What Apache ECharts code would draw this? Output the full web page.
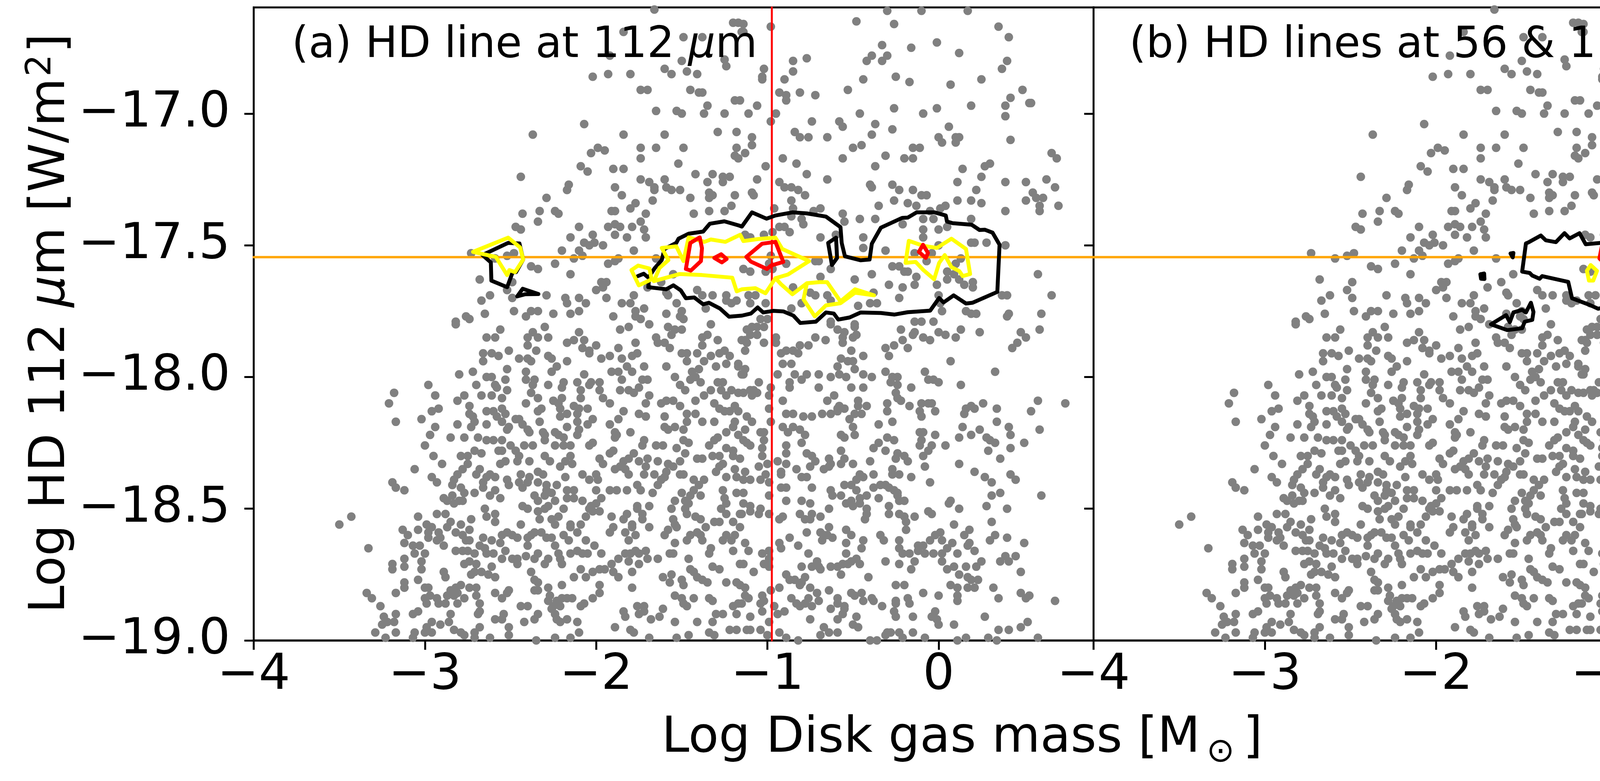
<!DOCTYPE html>
<html><head><meta charset="utf-8">
<script src="https://cdn.jsdelivr.net/npm/echarts@6/dist/echarts.min.js"></script>
<style>html,body{margin:0;padding:0;background:#fff}#c{width:5000px;height:2000px}</style>
</head><body><div id="c"></div><script>
const FONT = 'DejaVu Sans';
const X_MIN = -4, X_MAX = 0.905, Y_MIN = -19, Y_MAX = -16.597;
const xTicks = [-4, -3, -2, -1, 0];
const yTicks = [-19, -18.5, -18, -17.5, -17];
const massLimit = -0.974;
const fluxLimit = -17.545;

const farLeft = [[-3.34,-18.82],[-3.31,-18.84],[-3.26,-18.87],[-3.24,-18.91],[-3.22,-18.93],[-3.25,-18.94],[-3.29,-18.97],[-3.23,-18.99],[-3.50,-18.56],[-3.43,-18.53],[-3.33,-18.65],[-3.21,-18.10]];

const upperLeft = [[-1.66,-16.605],[-1.20,-16.655],[-1.17,-16.655],[-1.84,-16.69],[-1.49,-16.71],[-1.38,-16.71],[-1.15,-16.69],[-1.92,-16.78],[-1.50,-16.80],[-1.25,-16.795],[-1.24,-16.82],[-1.60,-16.83],[-1.56,-16.85],[-1.47,-16.84],[-1.41,-16.85],[-2.02,-16.86],[-1.93,-16.85],[-1.80,-16.85],[-1.74,-16.91],[-1.70,-16.91],[-1.45,-16.91],[-1.40,-16.92],[-1.38,-16.92],[-1.19,-16.95],[-1.16,-16.95],[-1.65,-16.99],[-1.53,-16.99],[-1.50,-17.00],[-1.35,-16.97],[-1.37,-17.00],[-1.25,-17.00],[-2.07,-17.04],[-2.37,-17.08],[-1.84,-17.08],[-1.60,-17.08],[-1.29,-17.07],[-1.18,-17.07],[-1.99,-17.13],[-1.95,-17.14],[-2.03,-17.15],[-1.74,-17.13],[-1.65,-17.13],[-1.49,-17.13],[-1.18,-17.13],[-1.74,-17.17],[-1.52,-17.19],[-1.19,-17.16],[-1.17,-17.17],[-2.09,-17.20],[-2.05,-17.22],[-1.90,-17.21],[-1.84,-17.21],[-2.44,-17.24],[-2.16,-17.27],[-2.17,-17.29],[-1.74,-17.25],[-1.69,-17.26],[-1.66,-17.28],[-1.66,-17.29],[-1.89,-17.28],[-1.60,-17.25],[-1.59,-17.28],[-1.56,-17.29],[-1.51,-17.29],[-1.42,-17.23],[-1.35,-17.26],[-1.32,-17.23],[-1.26,-17.24],[-1.22,-17.24],[-1.26,-17.26],[-1.85,-17.31],[-2.29,-17.32],[-1.45,-17.32],[-1.34,-17.30],[-1.34,-17.32],[-1.32,-17.31],[-1.19,-17.31],[-1.77,-17.34],[-1.80,-17.36],[-1.67,-17.33],[-2.43,-17.38],[-2.33,-17.37],[-2.34,-17.41],[-2.24,-17.37],[-2.22,-17.38],[-1.91,-17.37],[-1.89,-17.37],[-1.71,-17.38],[-1.74,-17.41],[-1.43,-17.38],[-1.34,-17.37],[-1.25,-17.37],[-1.21,-17.35],[-2.47,-17.43],[-2.44,-17.44],[-2.10,-17.43],[-1.93,-17.43],[-1.89,-17.42],[-1.86,-17.43],[-1.89,-17.46],[-1.79,-17.43],[-1.72,-17.44],[-1.71,-17.47],[-1.82,-17.47],[-2.15,-17.47],[-2.02,-17.46],[-2.07,-17.49],[-2.04,-17.50],[-2.01,-17.49],[-1.96,-17.50],[-2.20,-17.52],[-2.13,-17.55],[-2.10,-17.52],[-2.08,-17.54],[-2.73,-17.53],[-2.59,-17.55],[-2.52,-17.54],[-2.48,-17.53],[-1.93,-17.57],[-1.89,-17.56],[-1.87,-17.55],[-1.78,-17.52],[-1.65,-17.55],[-2.38,-17.58],[-2.34,-17.59],[-2.24,-17.57],[-1.55,-17.61],[-2.15,-17.61],[-2.68,-17.63],[-2.49,-17.64],[-2.52,-17.67],[-1.97,-17.64],[-1.94,-17.64],[-2.00,-17.67],[-1.96,-17.66],[-1.70,-17.66],[-1.62,-17.64],[-2.62,-17.69],[-2.67,-17.71],[-2.49,-17.70],[-2.29,-17.69],[-2.18,-17.70],[-2.17,-17.72],[-2.10,-17.70],[-1.94,-17.70],[-1.78,-17.69],[-1.59,-17.68],[-1.58,-17.69],[-1.53,-17.72],[-1.41,-17.67],[-1.38,-17.69],[-1.32,-17.69],[-1.24,-17.69],[-1.24,-17.71],[-1.21,-17.72],[-1.18,-17.71],[-2.48,-17.75],[-2.65,-17.76],[-2.76,-17.77],[-2.74,-17.78],[-2.41,-17.77],[-2.38,-17.75],[-2.34,-17.75],[-2.25,-17.76],[-2.15,-17.76],[-2.10,-17.75],[-2.06,-17.72],[-1.90,-17.77],[-1.85,-17.72],[-1.80,-17.72],[-1.77,-17.75],[-1.72,-17.74],[-1.77,-17.77],[-1.74,-17.78],[-1.59,-17.76],[-1.50,-17.75],[-1.51,-17.77],[-1.49,-17.78],[-1.36,-17.74],[-2.82,-17.79]];

const upperRight = [[-0.30,-16.61],[-0.10,-16.61],[0.17,-16.61],[-0.48,-16.65],[-0.26,-16.66],[-1.14,-16.66],[-1.14,-16.69],[-0.98,-16.67],[0.35,-16.67],[0.41,-16.71],[-0.33,-16.74],[-0.01,-16.73],[-0.16,-16.75],[0.12,-16.77],[-0.30,-16.78],[-0.39,-16.78],[-0.42,-16.80],[-0.33,-16.80],[-0.85,-16.80],[-0.77,-16.79],[0.40,-16.80],[0.37,-16.83],[-1.02,-16.83],[-1.03,-16.86],[-1.03,-16.87],[-0.85,-16.84],[-0.90,-16.87],[-0.44,-16.87],[-0.25,-16.86],[-0.17,-16.88],[0.25,-16.87],[0.07,-16.89],[-0.53,-16.91],[-0.93,-16.92],[-0.89,-16.93],[-0.89,-16.95],[-0.81,-16.92],[-0.72,-16.93],[0.49,-16.91],[0.42,-16.94],[0.39,-16.97],[0.54,-16.96],[0.53,-16.96],[0.19,-16.97],[-0.26,-16.98],[-0.01,-16.98],[-0.09,-17.00],[-0.46,-17.00],[-0.95,-17.00],[-0.98,-17.03],[-1.06,-16.97],[-1.11,-17.00],[0.39,-17.01],[-0.74,-17.03],[-0.58,-17.03],[-0.56,-17.05],[-0.37,-17.04],[-0.84,-17.07],[-0.81,-17.09],[-0.76,-17.09],[-0.65,-17.09],[-0.39,-17.08],[-0.27,-17.06],[0.06,-17.05],[-1.09,-17.09],[-1.09,-17.12],[0.42,-17.10],[0.00,-17.09],[0.02,-17.11],[0.10,-17.09],[0.12,-17.09],[0.10,-17.11],[-0.50,-17.13],[-0.45,-17.12],[-0.15,-17.13],[-0.11,-17.13],[-0.20,-17.17],[-0.15,-17.17],[-0.31,-17.16],[-1.13,-17.15],[-0.91,-17.17],[-0.56,-17.17],[0.66,-17.15],[0.69,-17.17],[-0.83,-17.19],[-0.37,-17.20],[-1.01,-17.20],[0.27,-17.20],[0.30,-17.19],[0.14,-17.21],[-0.77,-17.23],[-1.06,-17.25],[-0.65,-17.25],[-0.93,-17.26],[-0.90,-17.28],[-0.86,-17.28],[-0.82,-17.29],[-0.78,-17.31],[-0.40,-17.27],[-0.39,-17.28],[-0.27,-17.27],[-0.23,-17.29],[-0.15,-17.29],[0.25,-17.24],[0.11,-17.26],[0.39,-17.26],[0.51,-17.26],[0.63,-17.25],[0.68,-17.28],[0.22,-17.29],[-1.09,-17.30],[-1.08,-17.31],[-0.10,-17.31],[-0.07,-17.31],[0.55,-17.30],[0.57,-17.32],[0.61,-17.32],[-0.86,-17.33],[-0.26,-17.33],[-0.18,-17.34],[0.11,-17.33],[0.19,-17.33],[0.25,-17.34],[0.51,-17.33],[0.70,-17.35],[-0.35,-17.35],[-0.13,-17.35],[0.04,-17.35],[0.01,-17.36],[0.59,-17.35],[0.59,-17.37],[-0.96,-17.36],[-0.85,-17.36],[0.39,-17.37],[-0.56,-17.38],[-0.73,-17.37],[-0.69,-17.36],[-0.46,-17.40],[-0.37,-17.40],[-0.05,-17.37],[0.19,-17.40],[-0.55,-17.41],[-0.86,-17.39],[-0.80,-17.40],[-0.79,-17.42],[-0.21,-17.42],[-0.09,-17.40],[-0.09,-17.44],[-0.03,-17.40],[0.00,-17.44],[0.05,-17.43],[-0.93,-17.43],[-0.90,-17.43],[-0.87,-17.45],[-0.97,-17.45],[-1.13,-17.46],[-1.10,-17.47],[-1.02,-17.46],[-0.69,-17.47],[-0.60,-17.46],[-0.44,-17.47],[-0.44,-17.51],[-0.09,-17.47],[-0.31,-17.52],[0.00,-17.50],[0.19,-17.49],[0.21,-17.49],[0.28,-17.49],[0.39,-17.50],[-0.14,-17.53],[-0.07,-17.56],[-0.04,-17.53],[0.10,-17.57],[0.13,-17.55],[-0.98,-17.54],[-0.99,-17.57],[-0.89,-17.57],[-1.14,-17.59],[-1.10,-17.60],[-1.01,-17.60],[-0.97,-17.59],[-0.72,-17.56],[-0.70,-17.56],[-0.63,-17.59],[-0.27,-17.58],[-0.23,-17.58],[-0.20,-17.60],[-0.18,-17.60],[-0.39,-17.61],[-0.13,-17.62],[-0.14,-17.65],[-0.29,-17.65],[-0.21,-17.66],[0.05,-17.60],[0.05,-17.63],[0.09,-17.61],[0.12,-17.63],[0.15,-17.65],[0.20,-17.64],[0.20,-17.66],[-0.01,-17.65],[0.58,-17.61],[-0.69,-17.62],[-0.49,-17.63],[-0.85,-17.66],[-0.75,-17.68],[-0.72,-17.69],[-0.65,-17.69],[-0.63,-17.71],[-1.11,-17.69],[-1.07,-17.69],[-1.10,-17.72],[-1.01,-17.72],[-0.80,-17.72],[-0.86,-17.74],[-0.47,-17.73],[-0.40,-17.72],[-0.36,-17.72],[-0.38,-17.68],[-0.23,-17.70],[0.00,-17.69],[0.01,-17.72],[0.02,-17.75],[0.37,-17.69],[0.40,-17.69],[0.66,-17.69],[0.16,-17.75],[0.19,-17.76],[0.22,-17.76],[0.41,-17.76],[0.40,-17.77],[0.60,-17.76],[-1.04,-17.78],[-1.00,-17.78],[-0.14,-17.79],[-0.10,-17.79],[-0.03,-17.79],[-0.63,-17.79],[-0.49,-17.80]];

const lowerLeft = [[-2.82,-17.80],[-2.64,-17.85],[-2.59,-17.85],[-2.56,-17.82],[-2.40,-17.85],[-2.37,-17.83],[-2.40,-17.88],[-2.34,-17.85],[-2.30,-17.81],[-2.28,-17.85],[-2.17,-17.87],[-2.13,-17.86],[-2.10,-17.83],[-2.07,-17.86],[-2.00,-17.88],[-1.86,-17.82],[-1.81,-17.81],[-1.77,-17.87],[-1.69,-17.80],[-1.65,-17.85],[-1.64,-17.87],[-1.60,-17.87],[-1.58,-17.81],[-1.54,-17.82],[-1.56,-17.84],[-1.50,-17.82],[-1.38,-17.85],[-1.35,-17.84],[-1.33,-17.80],[-1.29,-17.86],[-1.15,-17.86],
[-2.66,-17.91],[-2.66,-17.94],[-2.61,-17.91],[-2.57,-17.92],[-2.51,-17.90],[-2.45,-17.93],[-2.40,-17.93],[-2.38,-17.94],[-2.35,-17.90],[-2.28,-17.92],[-2.26,-17.93],[-2.17,-17.94],[-2.08,-17.89],[-2.04,-17.90],[-2.04,-17.91],[-1.97,-17.93],[-1.92,-17.92],[-1.87,-17.89],[-1.85,-17.93],[-1.79,-17.92],[-1.76,-17.91],[-1.57,-17.89],[-1.50,-17.91],[-1.47,-17.91],[-1.47,-17.94],[-1.41,-17.91],[-1.38,-17.88],[-1.33,-17.92],[-1.37,-17.94],[-1.28,-17.91],[-1.25,-17.90],[-1.22,-17.92],[-1.24,-17.95],[-1.17,-17.95],
[-2.80,-17.99],[-2.72,-17.98],[-2.64,-18.00],[-2.61,-18.00],[-2.52,-17.97],[-2.53,-18.01],[-2.41,-17.98],[-2.41,-18.01],[-2.36,-18.01],[-2.26,-17.98],[-2.23,-17.96],[-2.19,-18.02],[-2.11,-18.02],[-2.07,-17.99],[-2.03,-18.02],[-1.98,-18.02],[-1.91,-17.98],[-1.87,-17.98],[-1.85,-18.01],[-1.82,-17.96],[-1.79,-17.98],[-1.72,-17.96],[-1.73,-18.01],[-1.70,-18.01],[-1.59,-17.96],[-1.54,-18.00],[-1.51,-18.03],[-1.44,-17.98],[-1.40,-17.97],[-1.45,-18.01],[-1.42,-18.00],[-1.39,-18.02],[-1.30,-17.96],[-1.29,-18.02],[-1.26,-18.02],[-1.17,-17.96],[-1.15,-17.99],
[-2.98,-18.03],[-3.18,-18.06],[-2.94,-18.07],[-2.81,-18.09],[-2.77,-18.07],[-2.70,-18.03],[-2.67,-18.07],[-2.61,-18.07],[-2.59,-18.03],[-2.58,-18.04],[-2.52,-18.05],[-2.55,-18.08],[-2.41,-18.10],[-2.38,-18.06],[-2.34,-18.08],[-2.37,-18.03],[-2.28,-18.03],[-2.20,-18.04],[-2.20,-18.08],[-2.25,-18.09],[-2.22,-18.10],[-2.09,-18.05],[-2.09,-18.08],[-2.04,-18.03],[-1.98,-18.05],[-1.96,-18.08],[-1.92,-18.10],[-1.86,-18.05],[-1.81,-18.05],[-1.78,-18.06],[-1.75,-18.04],[-1.69,-18.07],[-1.71,-18.10],[-1.62,-18.10],[-1.59,-18.09],[-1.55,-18.09],[-1.48,-18.05],[-1.42,-18.09],[-1.37,-18.07],[-1.33,-18.05],[-1.27,-18.05],[-1.24,-18.07],[-1.21,-18.05],[-1.17,-18.06],[-1.31,-18.10],
[-2.92,-18.12],[-2.96,-18.13],[-3.02,-18.16],[-3.17,-18.17],[-2.94,-18.19],[-2.81,-18.18],[-2.74,-18.11],[-2.74,-18.14],[-2.72,-18.15],[-2.71,-18.17],[-2.64,-18.13],[-2.60,-18.13],[-2.58,-18.15],[-2.55,-18.12],[-2.53,-18.14],[-2.64,-18.18],[-2.55,-18.17],[-2.47,-18.16],[-2.45,-18.16],[-2.43,-18.18],[-2.40,-18.20],[-2.34,-18.13],[-2.32,-18.12],[-2.33,-18.17],[-2.21,-18.15],[-2.17,-18.14],[-2.21,-18.12],[-2.13,-18.11],[-2.10,-18.12],[-2.05,-18.12],[-2.11,-18.14],[-2.02,-18.16],[-2.05,-18.18],[-2.11,-18.17],[-1.84,-18.13],[-1.87,-18.16],[-1.75,-18.14],[-1.71,-18.15],[-1.60,-18.15],[-1.51,-18.11],[-1.47,-18.14],[-1.42,-18.14],[-1.38,-18.17],[-1.47,-18.17],[-1.31,-18.17],[-1.28,-18.12],[-1.25,-18.13],[-1.22,-18.13],[-1.19,-18.11],[-1.17,-18.13],[-1.19,-18.17],
[-2.97,-18.22],[-3.00,-18.26],[-2.85,-18.23],[-2.77,-18.23],[-2.73,-18.19],[-2.69,-18.23],[-2.64,-18.24],[-2.60,-18.24],[-2.55,-18.24],[-2.52,-18.20],[-2.51,-18.19],[-2.39,-18.21],[-2.42,-18.26],[-2.37,-18.26],[-2.31,-18.21],[-2.30,-18.22],[-2.30,-18.24],[-2.24,-18.21],[-2.22,-18.22],[-2.19,-18.23],[-2.17,-18.19],[-2.24,-18.26],[-2.19,-18.26],[-2.15,-18.26],[-2.10,-18.20],[-2.11,-18.22],[-2.04,-18.26],[-2.02,-18.25],[-1.92,-18.18],[-1.89,-18.21],[-1.88,-18.22],[-1.89,-18.23],[-1.80,-18.21],[-1.72,-18.24],[-1.73,-18.26],[-1.65,-18.26],[-1.61,-18.26],[-1.60,-18.19],[-1.58,-18.20],[-1.54,-18.19],[-1.49,-18.20],[-1.49,-18.24],[-1.46,-18.25],[-1.34,-18.26],[-1.31,-18.24],[-1.29,-18.23],[-1.24,-18.21],[-1.20,-18.19],[-1.17,-18.22],
[-2.95,-18.30],[-2.90,-18.33],[-3.06,-18.35],[-2.79,-18.30],[-2.75,-18.30],[-2.71,-18.28],[-2.67,-18.29],[-2.57,-18.28],[-2.55,-18.28],[-2.50,-18.26],[-2.47,-18.28],[-2.45,-18.30],[-2.46,-18.32],[-2.56,-18.33],[-2.53,-18.32],[-2.39,-18.32],[-2.30,-18.30],[-2.27,-18.32],[-2.18,-18.32],[-2.15,-18.30],[-2.14,-18.33],[-2.21,-18.34],[-1.98,-18.31],[-1.96,-18.33],[-1.92,-18.29],[-1.90,-18.28],[-1.89,-18.35],[-1.86,-18.34],[-1.84,-18.32],[-1.81,-18.31],[-1.78,-18.29],[-1.75,-18.32],[-1.70,-18.31],[-1.71,-18.34],[-1.64,-18.32],[-1.58,-18.33],[-1.55,-18.34],[-1.51,-18.32],[-1.53,-18.27],[-1.48,-18.29],[-1.41,-18.31],[-1.38,-18.31],[-1.32,-18.30],[-1.28,-18.30],[-1.26,-18.33],[-1.24,-18.27],[-1.20,-18.28],[-1.20,-18.30],[-1.16,-18.31],
[-2.96,-18.38],[-2.93,-18.40],[-2.81,-18.37],[-2.83,-18.39],[-2.84,-18.41],[-2.78,-18.35],[-2.75,-18.33],[-2.70,-18.37],[-2.68,-18.35],[-2.66,-18.40],[-2.64,-18.38],[-2.62,-18.37],[-2.59,-18.38],[-2.52,-18.39],[-2.51,-18.41],[-2.44,-18.37],[-2.45,-18.40],[-2.43,-18.42],[-2.39,-18.38],[-2.40,-18.40],[-2.34,-18.36],[-2.31,-18.37],[-2.34,-18.40],[-2.29,-18.41],[-2.23,-18.41],[-2.18,-18.38],[-2.08,-18.37],[-2.04,-18.39],[-2.00,-18.37],[-1.99,-18.39],[-2.00,-18.43],[-1.83,-18.35],[-1.81,-18.37],[-1.72,-18.37],[-1.66,-18.37],[-1.62,-18.39],[-1.60,-18.38],[-1.59,-18.36],[-1.64,-18.41],[-1.51,-18.37],[-1.49,-18.37],[-1.43,-18.39],[-1.37,-18.39],[-1.40,-18.41],[-1.30,-18.36],[-1.28,-18.34],[-1.24,-18.38],[-1.19,-18.35],[-1.18,-18.38],
[-3.17,-18.42],[-3.12,-18.43],[-3.19,-18.40],[-2.89,-18.46],[-2.87,-18.47],[-2.84,-18.45],[-2.83,-18.48],[-2.79,-18.42],[-2.77,-18.44],[-2.78,-18.47],[-2.80,-18.47],[-2.71,-18.44],[-2.66,-18.42],[-2.62,-18.45],[-2.59,-18.43],[-2.56,-18.46],[-2.65,-18.50],[-2.43,-18.49],[-2.40,-18.50],[-2.36,-18.45],[-2.34,-18.47],[-2.30,-18.45],[-2.29,-18.43],[-2.26,-18.44],[-2.24,-18.47],[-2.30,-18.50],[-2.28,-18.49],[-2.17,-18.43],[-2.13,-18.43],[-2.17,-18.46],[-2.13,-18.46],[-2.19,-18.50],[-2.08,-18.47],[-2.03,-18.49],[-2.00,-18.48],[-1.97,-18.46],[-1.92,-18.43],[-1.88,-18.43],[-1.82,-18.43],[-1.76,-18.41],[-1.74,-18.43],[-1.67,-18.44],[-1.69,-18.49],[-1.76,-18.49],[-1.50,-18.44],[-1.45,-18.45],[-1.43,-18.43],[-1.39,-18.45],[-1.48,-18.47],[-1.46,-18.48],[-1.54,-18.47],[-1.26,-18.43],[-1.25,-18.46],[-1.24,-18.48],[-1.18,-18.44],
[-3.04,-18.53],[-2.93,-18.52],[-2.88,-18.52],[-2.99,-18.56],[-2.96,-18.57],[-2.85,-18.55],[-2.79,-18.56],[-2.73,-18.54],[-2.64,-18.53],[-2.59,-18.52],[-2.59,-18.55],[-2.44,-18.56],[-2.34,-18.51],[-2.33,-18.54],[-2.26,-18.54],[-2.24,-18.56],[-2.22,-18.53],[-2.15,-18.56],[-2.09,-18.56],[-2.06,-18.53],[-2.04,-18.50],[-2.02,-18.51],[-1.98,-18.51],[-1.91,-18.53],[-1.90,-18.57],[-1.84,-18.54],[-1.82,-18.52],[-1.79,-18.56],[-1.76,-18.50],[-1.73,-18.52],[-1.73,-18.54],[-1.69,-18.57],[-1.56,-18.50],[-1.55,-18.54],[-1.53,-18.57],[-1.48,-18.50],[-1.47,-18.52],[-1.42,-18.53],[-1.39,-18.54],[-1.36,-18.57],[-1.31,-18.55],[-1.28,-18.55],[-1.27,-18.50],[-1.24,-18.52],[-1.20,-18.55],[-1.16,-18.52],
[-3.13,-18.58],[-3.10,-18.60],[-3.12,-18.63],[-3.07,-18.64],[-3.04,-18.58],[-2.98,-18.59],[-2.98,-18.61],[-2.92,-18.59],[-2.91,-18.61],[-2.93,-18.62],[-2.89,-18.64],[-2.87,-18.57],[-2.82,-18.59],[-2.78,-18.60],[-2.76,-18.62],[-2.74,-18.58],[-2.74,-18.62],[-2.66,-18.61],[-2.61,-18.62],[-2.56,-18.63],[-2.55,-18.60],[-2.52,-18.59],[-2.49,-18.60],[-2.46,-18.61],[-2.40,-18.61],[-2.38,-18.60],[-2.40,-18.64],[-2.36,-18.59],[-2.32,-18.59],[-2.29,-18.61],[-2.26,-18.61],[-2.19,-18.60],[-2.16,-18.62],[-2.15,-18.57],[-2.11,-18.59],[-2.06,-18.62],[-2.01,-18.64],[-1.92,-18.59],[-1.83,-18.59],[-1.79,-18.57],[-1.77,-18.60],[-1.81,-18.62],[-1.60,-18.60],[-1.58,-18.58],[-1.54,-18.56],[-1.54,-18.63],[-1.47,-18.62],[-1.45,-18.60],[-1.41,-18.59],[-1.39,-18.60],[-1.38,-18.62],[-1.26,-18.62],[-1.24,-18.60],[-1.21,-18.62],[-1.19,-18.60],[-1.16,-18.57],
[-3.06,-18.67],[-3.03,-18.64],[-3.02,-18.70],[-3.00,-18.67],[-3.12,-18.69],[-3.12,-18.72],[-3.19,-18.71],[-3.19,-18.73],[-3.02,-18.73],[-2.82,-18.66],[-2.78,-18.66],[-2.75,-18.66],[-2.77,-18.71],[-2.74,-18.70],[-2.71,-18.67],[-2.68,-18.64],[-2.65,-18.65],[-2.64,-18.67],[-2.60,-18.67],[-2.70,-18.71],[-2.61,-18.72],[-2.55,-18.69],[-2.53,-18.66],[-2.49,-18.69],[-2.46,-18.69],[-2.46,-18.71],[-2.41,-18.68],[-2.36,-18.69],[-2.34,-18.67],[-2.28,-18.69],[-2.30,-18.71],[-2.24,-18.64],[-2.22,-18.67],[-2.21,-18.69],[-2.20,-18.71],[-2.15,-18.67],[-2.11,-18.66],[-2.08,-18.67],[-2.05,-18.67],[-1.97,-18.67],[-1.91,-18.71],[-1.87,-18.69],[-1.83,-18.67],[-1.80,-18.67],[-1.77,-18.66],[-1.75,-18.67],[-1.71,-18.66],[-1.70,-18.69],[-1.81,-18.70],[-1.75,-18.71],[-1.64,-18.69],[-1.57,-18.67],[-1.55,-18.67],[-1.46,-18.69],[-1.34,-18.67],[-1.33,-18.65],[-1.20,-18.66],[-1.16,-18.71],[-1.32,-18.72],[-1.28,-18.73],
[-2.89,-18.74],[-2.88,-18.76],[-3.04,-18.77],[-3.12,-18.78],[-3.12,-18.80],[-3.17,-18.82],[-2.73,-18.75],[-2.71,-18.74],[-2.67,-18.74],[-2.63,-18.75],[-2.59,-18.76],[-2.38,-18.74],[-2.36,-18.77],[-2.34,-18.78],[-2.20,-18.79],[-2.13,-18.76],[-2.09,-18.73],[-2.06,-18.76],[-2.02,-18.74],[-1.98,-18.73],[-1.95,-18.73],[-1.90,-18.74],[-1.87,-18.76],[-1.79,-18.74],[-1.61,-18.76],[-1.57,-18.78],[-1.56,-18.75],[-1.50,-18.77],[-1.49,-18.79],[-1.45,-18.73],[-1.43,-18.74],[-1.41,-18.76],[-1.38,-18.77],[-1.35,-18.78],[-1.24,-18.78],[-1.18,-18.78],[-1.16,-18.79],[-1.98,-18.79],
[-3.00,-18.80],[-2.98,-18.80],[-3.00,-18.84],[-2.97,-18.83],[-2.99,-18.86],[-2.93,-18.84],[-2.92,-18.86],[-2.88,-18.86],[-2.85,-18.81],[-2.82,-18.80],[-2.79,-18.79],[-2.87,-18.83],[-2.83,-18.83],[-2.81,-18.82],[-2.81,-18.86],[-2.77,-18.84],[-2.74,-18.80],[-2.70,-18.80],[-2.70,-18.83],[-2.68,-18.86],[-2.59,-18.82],[-2.55,-18.84],[-2.52,-18.82],[-2.51,-18.81],[-2.44,-18.87],[-2.40,-18.87],[-2.36,-18.81],[-2.34,-18.81],[-2.28,-18.80],[-2.27,-18.83],[-2.28,-18.85],[-2.23,-18.85],[-2.20,-18.84],[-2.17,-18.84],[-2.14,-18.84],[-2.25,-18.87],[-2.21,-18.87],[-2.09,-18.87],[-2.07,-18.86],[-2.02,-18.84],[-1.98,-18.82],[-1.79,-18.80],[-1.76,-18.87],[-1.72,-18.87],[-1.54,-18.83],[-1.50,-18.84],[-1.43,-18.84],[-1.34,-18.84],[-1.32,-18.85],[-1.49,-18.86],[-1.47,-18.87],[-1.20,-18.87],[-1.17,-18.86],
[-3.07,-18.90],[-3.04,-18.89],[-3.17,-18.90],[-3.18,-18.93],[-2.96,-18.93],[-2.99,-18.95],[-2.91,-18.94],[-2.86,-18.93],[-2.85,-18.90],[-2.69,-18.90],[-2.68,-18.89],[-2.59,-18.92],[-2.55,-18.92],[-2.54,-18.90],[-2.42,-18.93],[-2.36,-18.92],[-2.34,-18.90],[-2.26,-18.88],[-2.24,-18.90],[-2.23,-18.92],[-2.21,-18.93],[-2.17,-18.92],[-2.11,-18.93],[-1.84,-18.89],[-1.83,-18.91],[-1.75,-18.90],[-1.72,-18.89],[-1.68,-18.92],[-1.63,-18.91],[-1.61,-18.88],[-1.54,-18.93],[-1.41,-18.93],[-1.32,-18.93],[-1.30,-18.90],[-1.26,-18.90],[-1.18,-18.90],
[-3.17,-18.97],[-3.06,-18.97],[-3.07,-18.99],[-3.00,-18.97],[-2.96,-18.97],[-2.83,-18.96],[-2.79,-18.97],[-2.77,-18.98],[-2.71,-18.97],[-2.68,-18.95],[-2.71,-18.99],[-2.62,-18.99],[-2.51,-18.95],[-2.51,-18.98],[-2.35,-19.00],[-2.24,-18.99],[-2.15,-18.99],[-2.10,-18.97],[-1.89,-18.95],[-1.80,-18.96],[-1.78,-18.97],[-1.69,-18.99],[-1.53,-18.99],[-1.46,-18.98],[-1.34,-18.97],[-1.31,-18.98],[-1.22,-18.96],[-1.18,-18.96]];

const lowerRight = [[-1.12,-17.82],[-1.09,-17.81],[-1.06,-17.81],[-1.02,-17.81],[-1.13,-17.86],[-1.10,-17.84],[-1.06,-17.84],[-1.02,-17.87],[-1.12,-17.87],[-0.95,-17.85],[-0.95,-17.87],[-0.72,-17.85],[-0.66,-17.86],[-0.59,-17.82],[-0.55,-17.83],[-0.56,-17.85],[-0.56,-17.87],[-0.50,-17.85],[-0.48,-17.84],[-0.49,-17.81],[-0.63,-17.80],[-0.22,-17.82],[-0.26,-17.88],[-0.21,-17.86],[-0.18,-17.89],[-0.15,-17.84],[-0.14,-17.83],[-0.09,-17.85],[-0.05,-17.86],[0.00,-17.83],[0.04,-17.84],[0.10,-17.85],[0.13,-17.82],[0.24,-17.83],[0.48,-17.83],[0.51,-17.85],[0.46,-17.87],[0.43,-17.89],[0.59,-17.82],[-0.31,-17.89],
[-1.13,-17.90],[-0.92,-17.91],[-0.89,-17.90],[-0.85,-17.90],[-0.82,-17.91],[-0.81,-17.88],[-0.76,-17.88],[-0.91,-17.95],[-0.86,-17.95],[-0.57,-17.93],[-0.53,-17.94],[-0.50,-17.94],[-0.51,-17.90],[-0.44,-17.92],[-0.59,-17.96],[-0.29,-17.92],[0.07,-17.94],[0.33,-17.98],
[-1.13,-17.97],[-1.14,-17.99],[-0.94,-17.99],[-0.84,-17.99],[-0.80,-18.01],[-0.77,-17.99],[-0.70,-17.99],[-0.63,-18.00],[-0.58,-17.99],[-0.54,-18.00],[-0.49,-17.97],[-0.44,-17.99],[-0.39,-18.00],[-0.31,-17.98],[-0.27,-18.00],[-0.24,-18.00],[-0.28,-18.02],[-0.24,-18.03],[-0.08,-17.98],[-0.06,-18.01],[-0.03,-18.01],[0.00,-18.02],[0.13,-18.03],[-1.05,-18.02],[-0.87,-18.02],[-0.87,-18.04],
[-1.10,-18.05],[-1.08,-18.05],[-1.06,-18.06],[-1.09,-18.07],[-1.14,-18.06],[-0.99,-18.07],[-0.98,-18.04],[-0.91,-18.09],[-0.70,-18.04],[-0.65,-18.09],[-0.61,-18.07],[-0.51,-18.04],[-0.44,-18.04],[-0.47,-18.09],[-0.47,-18.11],[-0.58,-18.11],[-0.55,-18.12],[-0.59,-18.13],[-0.16,-18.04],[-0.25,-18.06],[-0.24,-18.08],[-0.22,-18.09],[-0.17,-18.11],[-0.10,-18.10],[-0.06,-18.10],[-0.04,-18.10],[0.26,-18.10],[0.58,-18.09],[0.74,-18.10],[-0.30,-18.10],[-0.30,-18.13],
[-0.99,-18.12],[-1.12,-18.15],[-1.09,-18.17],[-0.89,-18.14],[-0.85,-18.14],[-0.79,-18.15],[-0.74,-18.15],[-0.68,-18.14],[-0.63,-18.14],[-0.59,-18.12],[-0.52,-18.16],[-0.49,-18.14],[-0.45,-18.14],[-0.42,-18.11],[-0.11,-18.13],[-0.10,-18.15],[-0.02,-18.13],[0.15,-18.14],[0.16,-18.12],[0.19,-18.11],[0.21,-18.12],[0.34,-18.12],[0.34,-18.17],[0.54,-18.13],[-0.35,-18.18],[-0.27,-18.17],[-0.98,-18.17],
[-1.13,-18.20],[-1.14,-18.24],[-1.12,-18.25],[-1.10,-18.26],[-1.04,-18.21],[-1.02,-18.21],[-1.02,-18.24],[-0.91,-18.19],[-0.88,-18.21],[-0.85,-18.19],[-0.81,-18.20],[-0.78,-18.22],[-0.89,-18.26],[-0.80,-18.25],[-0.57,-18.22],[-0.55,-18.23],[-0.50,-18.19],[-0.49,-18.22],[-0.38,-18.27],[-0.35,-18.25],[-0.30,-18.23],[-0.26,-18.24],[-0.11,-18.21],[-0.09,-18.21],[-0.10,-18.24],[-0.11,-18.26],[-0.02,-18.22],[-0.04,-18.26],[0.04,-18.26],[0.12,-18.23],[0.14,-18.19],[0.19,-18.22],[0.24,-18.20],[0.28,-18.23],[0.30,-18.24],[0.33,-18.25],[0.41,-18.19],[0.42,-18.22],[0.50,-18.25],[0.59,-18.20],
[-1.03,-18.27],[-1.03,-18.30],[-0.89,-18.29],[-0.77,-18.29],[-0.74,-18.30],[-0.72,-18.32],[-0.75,-18.34],[-0.94,-18.32],[-0.89,-18.33],[-0.64,-18.31],[-0.63,-18.33],[-0.64,-18.34],[-0.67,-18.35],[-0.57,-18.28],[-0.57,-18.33],[-0.55,-18.31],[-0.50,-18.33],[-0.40,-18.32],[-0.31,-18.28],[-0.24,-18.29],[-0.25,-18.31],[-0.20,-18.30],[-0.18,-18.32],[-0.09,-18.30],[-0.06,-18.28],[0.29,-18.28],[0.36,-18.31],[0.42,-18.27],[0.12,-18.33],[-0.08,-18.34],[-1.05,-18.34],[-1.00,-18.33],
[-1.13,-18.36],[-1.14,-18.39],[-1.10,-18.39],[-1.04,-18.39],[-1.01,-18.37],[-0.99,-18.40],[-0.92,-18.36],[-0.92,-18.37],[-0.83,-18.35],[-0.80,-18.38],[-0.77,-18.38],[-0.92,-18.42],[-0.89,-18.42],[-0.74,-18.42],[-0.63,-18.43],[-0.62,-18.45],[-0.55,-18.41],[-0.51,-18.41],[-0.48,-18.39],[-0.46,-18.37],[-0.44,-18.38],[-0.38,-18.37],[-0.48,-18.43],[-0.34,-18.41],[-0.31,-18.41],[-0.29,-18.42],[-0.26,-18.43],[-0.24,-18.44],[-0.24,-18.45],[-0.38,-18.42],[-0.27,-18.35],[-0.27,-18.37],[-0.23,-18.37],[-0.16,-18.38],[-0.05,-18.40],[0.21,-18.36],[0.27,-18.38],[0.31,-18.40],[0.42,-18.37],[0.45,-18.39],
[-1.14,-18.44],[-1.14,-18.48],[-1.10,-18.49],[-1.04,-18.50],[-0.99,-18.45],[-0.89,-18.47],[-0.80,-18.47],[-0.75,-18.48],[-0.57,-18.45],[-0.54,-18.48],[-0.51,-18.47],[-0.50,-18.49],[-0.46,-18.48],[-0.46,-18.46],[-0.42,-18.45],[-0.35,-18.46],[-0.29,-18.49],[-0.23,-18.47],[-0.20,-18.47],[0.31,-18.45],[0.36,-18.44],[0.60,-18.45],[0.07,-18.47],[0.06,-18.48],[0.28,-18.49],
[-1.10,-18.51],[-1.15,-18.52],[-1.05,-18.52],[-0.99,-18.52],[-0.93,-18.54],[-0.91,-18.53],[-0.81,-18.52],[-0.78,-18.54],[-0.75,-18.54],[-0.74,-18.52],[-0.69,-18.53],[-0.64,-18.50],[-0.42,-18.50],[-0.42,-18.52],[-0.43,-18.54],[-0.29,-18.52],[-0.23,-18.52],[-0.20,-18.53],[-0.14,-18.53],[-0.06,-18.51],[-0.04,-18.52],[0.12,-18.50],[0.40,-18.50],[-0.19,-18.55],[-0.19,-18.58],[0.09,-18.56],[0.31,-18.55],
[-1.13,-18.63],[-0.77,-18.59],[-0.87,-18.61],[-0.93,-18.63],[-0.92,-18.65],[-0.82,-18.64],[-0.69,-18.59],[-0.67,-18.60],[-0.65,-18.60],[-0.68,-18.62],[-0.62,-18.61],[-0.64,-18.57],[-0.54,-18.58],[-0.51,-18.60],[-0.54,-18.63],[-0.44,-18.62],[-0.45,-18.65],[-0.34,-18.60],[-0.32,-18.62],[-0.23,-18.62],[-0.23,-18.65],[-0.21,-18.67],[-0.12,-18.64],[-0.09,-18.64],[-0.05,-18.62],[-0.02,-18.60],[0.01,-18.59],[0.02,-18.62],[0.08,-18.63],[0.15,-18.60],[0.18,-18.63],[0.18,-18.58],[0.17,-18.64],[0.30,-18.62],[0.33,-18.60],[0.40,-18.61],[0.50,-18.63],[0.05,-18.65],[0.11,-18.67],
[-1.11,-18.66],[-1.03,-18.67],[-0.99,-18.66],[-0.99,-18.69],[-1.14,-18.71],[-1.02,-18.71],[-0.99,-18.72],[-1.08,-18.74],[-0.76,-18.67],[-0.71,-18.70],[-0.69,-18.73],[-0.70,-18.72],[-0.80,-18.72],[-0.74,-18.72],[-0.63,-18.72],[-0.59,-18.72],[-0.56,-18.71],[-0.53,-18.71],[-0.51,-18.70],[-0.48,-18.69],[-0.46,-18.71],[-0.54,-18.67],[-0.31,-18.70],[-0.23,-18.71],[-0.17,-18.67],[-0.14,-18.70],[-0.16,-18.73],[-0.12,-18.66],[-0.08,-18.67],[-0.03,-18.67],[0.02,-18.67],[0.02,-18.70],[0.05,-18.73],[0.09,-18.72],[0.12,-18.75],[0.16,-18.72],[0.22,-18.72],[0.25,-18.70],[0.21,-18.66],[0.36,-18.70],[0.39,-18.68],[0.41,-18.70],[0.45,-18.68],[0.48,-18.74],[-0.57,-18.75],[-0.41,-18.76],
[-0.89,-18.75],[-0.87,-18.77],[-0.84,-18.77],[-0.81,-18.79],[-0.80,-18.78],[-0.78,-18.76],[-1.13,-18.80],[-0.98,-18.81],[-0.93,-18.80],[-0.75,-18.80],[-0.64,-18.81],[-0.25,-18.79],[-0.20,-18.79],[0.07,-18.79],[0.11,-18.80],[0.11,-18.83],[0.17,-18.76],[0.19,-18.77],[0.23,-18.77],[0.17,-18.80],[0.21,-18.80],[0.32,-18.80],
[-1.13,-18.83],[-1.11,-18.84],[-1.15,-18.86],[-1.03,-18.83],[-1.02,-18.85],[-1.04,-18.86],[-0.96,-18.87],[-0.86,-18.84],[-0.83,-18.86],[-0.81,-18.87],[-0.78,-18.86],[-0.76,-18.84],[-0.74,-18.87],[-0.71,-18.82],[-0.70,-18.85],[-0.59,-18.84],[-0.59,-18.86],[-0.63,-18.88],[-0.51,-18.82],[-0.49,-18.83],[-0.45,-18.82],[-0.44,-18.85],[-0.39,-18.84],[-0.38,-18.85],[-0.33,-18.87],[-0.25,-18.85],[-0.25,-18.86],[-0.26,-18.89],[-0.18,-18.84],[-0.17,-18.86],[-0.09,-18.82],[0.00,-18.83],[0.11,-18.85],[0.35,-18.84],[0.48,-18.82],[0.51,-18.84],[0.53,-18.83],[0.68,-18.85],
[-1.10,-18.91],[-1.03,-18.89],[-0.94,-18.90],[-0.90,-18.89],[-0.99,-18.93],[-0.75,-18.92],[-0.59,-18.92],[-0.56,-18.90],[-0.55,-18.87],[-0.55,-18.88],[-0.48,-18.91],[-0.50,-18.94],[-0.47,-18.95],[-0.25,-18.91],[-0.15,-18.91],[-0.02,-18.89],[-0.04,-18.91],[-0.01,-18.92],[0.00,-18.94],[0.09,-18.94],[0.27,-18.91],[0.52,-18.93],[0.48,-18.95],
[-1.12,-18.96],[-1.10,-18.96],[-1.04,-18.96],[-1.00,-18.98],[-0.93,-18.97],[-0.89,-18.99],[-0.82,-19.00],[-0.69,-18.98],[-0.67,-18.95],[-0.64,-18.97],[-0.59,-18.97],[-0.40,-19.00],[-0.36,-19.00],[-0.31,-18.98],[-0.30,-18.97],[-0.28,-18.97],[-0.23,-18.97],[-0.21,-18.99],[-0.15,-18.97],[-0.08,-18.99],[0.11,-19.00],[0.16,-18.99],[0.29,-18.99],[0.34,-19.00],[0.35,-18.96],[0.41,-18.96],[0.58,-18.99]];

// Panel (a) contours
const aBlackMain = [[-1.149,-17.429],[-1.090,-17.375],[-1.005,-17.399],[-0.953,-17.387],[-0.854,-17.375],[-0.769,-17.379],[-0.658,-17.391],[-0.573,-17.431],[-0.566,-17.491],[-0.547,-17.542],[-0.455,-17.557],[-0.403,-17.554],[-0.390,-17.494],[-0.370,-17.471],[-0.337,-17.433],[-0.213,-17.396],[-0.180,-17.395],[-0.128,-17.375],[-0.023,-17.375],[0.042,-17.387],[0.049,-17.410],[0.082,-17.416],[0.193,-17.422],[0.239,-17.442],[0.271,-17.441],[0.315,-17.452],[0.356,-17.498],[0.343,-17.677],[0.199,-17.718],[0.160,-17.721],[0.088,-17.690],[0.029,-17.717],[0.003,-17.700],[-0.049,-17.748],[-0.180,-17.754],[-0.259,-17.763],[-0.337,-17.757],[-0.455,-17.755],[-0.520,-17.774],[-0.586,-17.782],[-0.612,-17.759],[-0.658,-17.755],[-0.717,-17.790],[-0.808,-17.795],[-0.848,-17.767],[-0.907,-17.751],[-0.966,-17.749],[-1.024,-17.755],[-1.057,-17.736],[-1.096,-17.759],[-1.149,-17.767],[-1.224,-17.771],[-1.277,-17.740],[-1.342,-17.718],[-1.375,-17.724],[-1.427,-17.698],[-1.476,-17.701],[-1.506,-17.671],[-1.549,-17.652],[-1.591,-17.667],[-1.696,-17.659],[-1.689,-17.617],[-1.657,-17.586],[-1.617,-17.556],[-1.601,-17.514],[-1.532,-17.491],[-1.519,-17.475],[-1.460,-17.456],[-1.375,-17.448],[-1.336,-17.418],[-1.251,-17.409],[-1.166,-17.425],[-1.149,-17.429]];
const aBlackLeft = [[-2.664,-17.537],[-2.514,-17.491],[-2.448,-17.493],[-2.426,-17.554],[-2.468,-17.602],[-2.488,-17.603],[-2.520,-17.659],[-2.612,-17.634],[-2.615,-17.565],[-2.664,-17.537]];
const aBlackSliver = [[-2.461,-17.694],[-2.429,-17.665],[-2.337,-17.685],[-2.416,-17.686],[-2.461,-17.694]];
const aBlackSpike = [[-0.645,-17.491],[-0.599,-17.471],[-0.593,-17.548],[-0.623,-17.575],[-0.645,-17.491]];
const aBlackNotch = [[-1.757,-17.617],[-1.722,-17.608],[-1.700,-17.620]];
const aYellowLeft = [[-2.719,-17.525],[-2.514,-17.471],[-2.444,-17.508],[-2.426,-17.554],[-2.474,-17.602],[-2.507,-17.594],[-2.520,-17.613],[-2.586,-17.544],[-2.719,-17.525]];
const aYellowSmall = [[-1.794,-17.594],[-1.755,-17.577],[-1.689,-17.588],[-1.676,-17.629],[-1.751,-17.652],[-1.794,-17.594]];
const aYellowMain = [[-1.663,-17.636],[-1.630,-17.586],[-1.578,-17.556],[-1.617,-17.510],[-1.532,-17.504],[-1.490,-17.560],[-1.460,-17.470],[-1.368,-17.487],[-1.330,-17.478],[-1.245,-17.487],[-1.159,-17.460],[-1.140,-17.484],[-1.052,-17.476],[-0.953,-17.471],[-0.913,-17.514],[-0.756,-17.560],[-0.880,-17.611],[-0.953,-17.625],[-1.011,-17.682],[-1.070,-17.663],[-1.149,-17.667],[-1.179,-17.675],[-1.205,-17.623],[-1.382,-17.613],[-1.512,-17.609],[-1.663,-17.636]];
const aYellowLower = [[-0.953,-17.625],[-0.920,-17.648],[-0.854,-17.686],[-0.769,-17.644],[-0.697,-17.640],[-0.651,-17.640],[-0.573,-17.713],[-0.488,-17.667],[-0.377,-17.690],[-0.488,-17.680],[-0.573,-17.720],[-0.658,-17.728],[-0.723,-17.770],[-0.789,-17.705],[-0.769,-17.644]];
const aYellowRight = [[-0.174,-17.483],[-0.089,-17.502],[-0.010,-17.510],[0.075,-17.475],[0.160,-17.514],[0.184,-17.609],[0.141,-17.617],[0.121,-17.598],[0.075,-17.583],[0.036,-17.537],[0.003,-17.567],[-0.026,-17.629],[-0.089,-17.594],[-0.134,-17.563],[-0.193,-17.567],[-0.174,-17.483]];
const aRed1 = [[-1.476,-17.590],[-1.450,-17.491],[-1.395,-17.470],[-1.382,-17.511],[-1.388,-17.560],[-1.447,-17.596],[-1.476,-17.590]];
const aRed2 = [[-1.310,-17.548],[-1.270,-17.534],[-1.238,-17.552],[-1.266,-17.565],[-1.310,-17.548]];
const aRed3 = [[-1.123,-17.544],[-1.031,-17.494],[-0.953,-17.487],[-0.907,-17.563],[-0.979,-17.577],[-1.002,-17.590],[-1.096,-17.562],[-1.123,-17.544]];
const aRed4 = [[-0.091,-17.498],[-0.062,-17.529],[-0.075,-17.548],[-0.115,-17.525],[-0.091,-17.498]];

// Panel (b) contours
const bBlackUpper = [[-0.858,-17.385],[-0.797,-17.377],[-0.797,-17.405],[-0.683,-17.434],[-0.662,-17.409],[-0.582,-17.409],[-0.567,-17.427],[-0.589,-17.513],[-0.647,-17.480],[-0.705,-17.516],[-0.771,-17.429],[-0.829,-17.414],[-0.858,-17.385]];
const bBlackMid = [[-1.461,-17.489],[-1.389,-17.463],[-1.360,-17.481],[-1.301,-17.488],[-1.251,-17.454],[-1.221,-17.474],[-1.163,-17.454],[-1.127,-17.496],[-1.040,-17.491],[-0.945,-17.479],[-0.923,-17.497],[-0.880,-17.481],[-0.778,-17.563],[-0.865,-17.617],[-0.945,-17.627],[-0.974,-17.666],[-0.982,-17.686],[-0.963,-17.728],[-1.054,-17.741],[-1.098,-17.728],[-1.207,-17.701],[-1.229,-17.639],[-1.381,-17.617],[-1.396,-17.627],[-1.439,-17.615],[-1.454,-17.605],[-1.498,-17.600],[-1.476,-17.493],[-1.461,-17.489]];
const bBlackRight = [[-0.865,-17.632],[-0.712,-17.575],[-0.618,-17.590],[-0.618,-17.600],[-0.538,-17.600],[-0.465,-17.575],[-0.352,-17.573],[-0.332,-17.557],[-0.231,-17.415],[-0.164,-17.377],[-0.007,-17.377],[-0.014,-17.424],[-0.181,-17.434],[-0.081,-17.557],[-0.131,-17.605],[-0.231,-17.643],[-0.332,-17.662],[-0.348,-17.747],[-0.265,-17.770],[-0.315,-17.808],[-0.473,-17.807],[-0.473,-17.753],[-0.524,-17.765],[-0.596,-17.758],[-0.669,-17.746],[-0.727,-17.773],[-0.807,-17.726],[-0.865,-17.662],[-0.865,-17.632]];
const bBlackLow = [[-1.680,-17.800],[-1.592,-17.765],[-1.570,-17.792],[-1.549,-17.755],[-1.498,-17.745],[-1.476,-17.755],[-1.447,-17.718],[-1.432,-17.753],[-1.439,-17.783],[-1.483,-17.790],[-1.498,-17.815],[-1.585,-17.822],[-1.680,-17.800]];
const bBlackDot1 = [[-1.742,-17.610],[-1.720,-17.607],[-1.718,-17.628],[-1.738,-17.627],[-1.742,-17.610]];
const bBlackDot2 = [[-1.566,-17.531],[-1.549,-17.529],[-1.553,-17.546],[-1.566,-17.531]];
const bRed = [[-1.032,-17.501],[-0.952,-17.493],[-0.960,-17.528],[-0.989,-17.558],[-0.996,-17.582],[-1.047,-17.550],[-1.032,-17.501]];
const bYellow = [[-1.098,-17.575],[-1.061,-17.597],[-1.083,-17.634],[-1.108,-17.634],[-1.120,-17.597],[-1.098,-17.575]];
const bYellowSliver = [[-0.952,-17.518],[-0.946,-17.538],[-0.956,-17.553]];

const points = [].concat(farLeft, upperLeft, upperRight, lowerLeft, lowerRight);

const contoursA = [
  [aBlackMain,'#000000'],[aBlackLeft,'#000000'],[aBlackSliver,'#000000'],[aBlackSpike,'#000000'],[aBlackNotch,'#000000'],
  [aYellowLeft,'#ffff00'],[aYellowSmall,'#ffff00'],[aYellowMain,'#ffff00'],[aYellowLower,'#ffff00'],[aYellowRight,'#ffff00'],
  [aRed1,'#ff0000'],[aRed2,'#ff0000'],[aRed3,'#ff0000'],[aRed4,'#ff0000']
];
const contoursB = [
  [bBlackUpper,'#000000'],[bBlackMid,'#000000'],[bBlackRight,'#000000'],[bBlackLow,'#000000'],[bBlackDot1,'#000000'],[bBlackDot2,'#000000'],
  [bYellow,'#ffff00'],[bYellowSliver,'#ffff00'],[bRed,'#ff0000']
];

function fmtX(v){ return (v < 0 ? '\u2212' : '') + Math.abs(Math.round(v)); }
function fmtY(v){ const r = Math.round(v*2)/2; if (Math.abs(r - v) > 1e-6) return ''; return (v < 0 ? '\u2212' : '') + Math.abs(v).toFixed(1); }

function mkX(i){
  return { type:'value', gridIndex:i, min:X_MIN, max:X_MAX, interval:1,
    axisLine:{show:true, onZero:false, lineStyle:{color:'#000', width:5}},
    axisTick:{show:true, inside:false, length:24, customValues:xTicks, lineStyle:{color:'#000', width:5}},
    axisLabel:{show:true, customValues:xTicks, formatter:fmtX, fontSize:127, fontFamily:FONT, color:'#000', margin:28},
    splitLine:{show:false} };
}
function mkY(i, labels){
  return { type:'value', gridIndex:i, min:Y_MIN, max:Y_MAX, interval:0.5,
    axisLine:{show:true, onZero:false, lineStyle:{color:'#000', width:5}},
    axisTick:{show:true, inside:false, length:24, customValues:yTicks, lineStyle:{color:'#000', width:5}},
    axisLabel:{show:labels, customValues:yTicks, formatter:fmtY, fontSize:127, fontFamily:FONT, color:'#000', margin:60},
    splitLine:{show:false} };
}
function lineSeries(i, data, color, width, z){
  return { type:'line', xAxisIndex:i, yAxisIndex:i, data:data, showSymbol:false, symbol:'none',
    lineStyle:{color:color, width:width, cap:'round', join:'round'}, z:z, silent:true, animation:false, clip:true };
}

const series = [];
[0,1].forEach(function(i){
  series.push({ type:'scatter', xAxisIndex:i, yAxisIndex:i, data:points, symbol:'circle', symbolSize:22,
    itemStyle:{color:'#808080', opacity:1}, z:1, silent:true, animation:false });
  series.push(lineSeries(i, [[massLimit, Y_MIN],[massLimit, Y_MAX]], '#ff0000', 5, 2));
  series.push(lineSeries(i, [[X_MIN, fluxLimit],[X_MAX, fluxLimit]], '#ffa500', 6, 2));
});
contoursA.forEach(function(c){ series.push(lineSeries(0, c[0], c[1], 10, 3)); });
contoursB.forEach(function(c){ series.push(lineSeries(1, c[0], c[1], 10, 3)); });

function richBase(size){
  return {
    n:{fontSize:size, fontFamily:FONT, fill:'#000', color:'#000'},
    i:{fontSize:size, fontFamily:FONT, fontStyle:'italic', fill:'#000', color:'#000'},
    sub:{fontSize:Math.round(size*0.68), fontFamily:FONT, fill:'#000', color:'#000', padding:[72, 22, 0, 16]},
    sup:{fontSize:Math.round(size*0.7), fontFamily:FONT, fill:'#000', color:'#000', padding:[0, 4, 50, 4]}
  };
}

const chart = echarts.init(document.getElementById('c'), null, {renderer:'canvas', width:5000, height:2000});
chart.setOption({
  animation:false,
  backgroundColor:'#ffffff',
  grid:[
    {left:649.5, top:19, width:2150, height:1621, show:true, borderColor:'#000', borderWidth:5, backgroundColor:'transparent', containLabel:false},
    {left:2799.5, top:19, width:2151, height:1621, show:true, borderColor:'#000', borderWidth:5, backgroundColor:'transparent', containLabel:false}
  ],
  xAxis:[mkX(0), mkX(1)],
  yAxis:[mkY(0, true), mkY(1, false)],
  series:series,
  graphic:[
    {type:'text', x:747, y:117, z:100, style:{text:'{n|(a) HD line at 112 }{i|\u03bc}{n|m}', rich:richBase(110), fontSize:110, fontFamily:FONT, fill:'#000', align:'left', verticalAlign:'middle', textAlign:'left', textVerticalAlign:'middle'}},
    {type:'text', x:2891, y:117, z:100, style:{text:'{n|(b) HD lines at 56 & 112 }{i|\u03bc}{n|m}', rich:richBase(110), fontSize:110, fontFamily:FONT, fill:'#000', align:'left', verticalAlign:'middle', textAlign:'left', textVerticalAlign:'middle'}},
    {type:'text', x:2463, y:1892, z:100, style:{text:'{n|Log Disk gas mass [M}{sub|\u2299}{n|]}', rich:richBase(127), fontSize:127, fontFamily:FONT, fill:'#000', align:'center', verticalAlign:'middle', textAlign:'center', textVerticalAlign:'middle'}},
    {type:'text', x:131, y:828, rotation:Math.PI/2, z:100, style:{text:'{n|Log HD 112 }{i|\u03bc}{n|m [W/m}{sup|2}{n|]}', rich:richBase(127), fontSize:127, fontFamily:FONT, fill:'#000', align:'center', verticalAlign:'middle', textAlign:'center', textVerticalAlign:'middle'}}
  ]
});
</script></body></html>
